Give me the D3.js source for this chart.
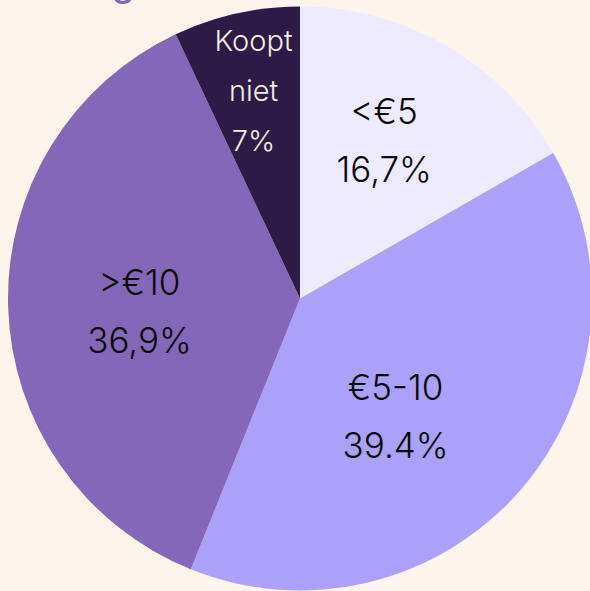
<!DOCTYPE html>
<html>
<head>
<meta charset="utf-8">
<script src="https://cdn.jsdelivr.net/npm/d3@7"></script>
<style>
  html, body { margin: 0; padding: 0; background: #fdf4eb; }
  svg { display: block; }
  text { font-family: Inter, "Noto Sans", sans-serif; }
</style>
</head>
<body>
<svg width="590" height="591"></svg>
<script>
// slices, clockwise from 12 o'clock
const categories = ["<€5", "€5-10", ">€10", "Koopt niet"];
const values = [16.7, 39.4, 36.9, 7];
const valueLabels = ["16,7%", "39.4%", "36,9%", "7%"];
const nameLines = [["<€5"], ["€5-10"], [">€10"], ["Koopt", "niet"]];

const colors = ["#eeeaff", "#aba1f8", "#8467b8", "#2e1a47"];
const textColors = ["#0a0a0a", "#0a0a0a", "#0a0a0a", "#f6ece1"];
// label placement: radius and small angle nudge (degrees) per slice
const labelR = [179, 152, 161, 213];
const labelNudge = [-2, 10, -3, 0];

const svg = d3.select("svg"),
    width = +svg.attr("width"),
    height = +svg.attr("height");

const cx = 300, cy = 298.5, radius = 292;

// title sits above the crop, only the descender of its "g" shows
svg.append("text")
    .attr("x", 112)
    .attr("y", -4)
    .attr("fill", "#8467b8")
    .attr("font-size", 36)
    .attr("font-weight", 500)
    .text("g");

const pie = d3.pie().sort(null).value(d => d);
const arc = d3.arc().innerRadius(0).outerRadius(radius);

const g = svg.append("g").attr("transform", `translate(${cx},${cy})`);

const arcs = pie(values);

g.selectAll("path")
    .data(arcs)
    .enter().append("path")
        .attr("d", arc)
        .attr("fill", (d, i) => colors[i]);

// labels
const labels = g.selectAll("g.label")
    .data(arcs)
    .enter().append("g")
        .attr("class", "label")
        .attr("transform", (d, i) => {
            const a = (d.startAngle + d.endAngle) / 2 + labelNudge[i] * Math.PI / 180;
            const r = labelR[i];
            return `translate(${r * Math.sin(a)},${-r * Math.cos(a)})`;
        });

labels.each(function(d, i) {
    const lines = nameLines[i].concat([valueLabels[i]]);
    const small = i === 3;
    const size = small ? 29 : 35;
    const step = small ? 50 : 58;
    const top = -(lines.length - 1) * step / 2 + size * 0.36;
    d3.select(this).selectAll("text")
        .data(lines)
        .enter().append("text")
            .attr("text-anchor", "middle")
            .attr("y", (t, j) => top + j * step)
            .attr("font-size", size)
            .attr("font-weight", 300)
            .attr("fill", textColors[i])
            .text(t => t);
});
</script>
</body>
</html>
